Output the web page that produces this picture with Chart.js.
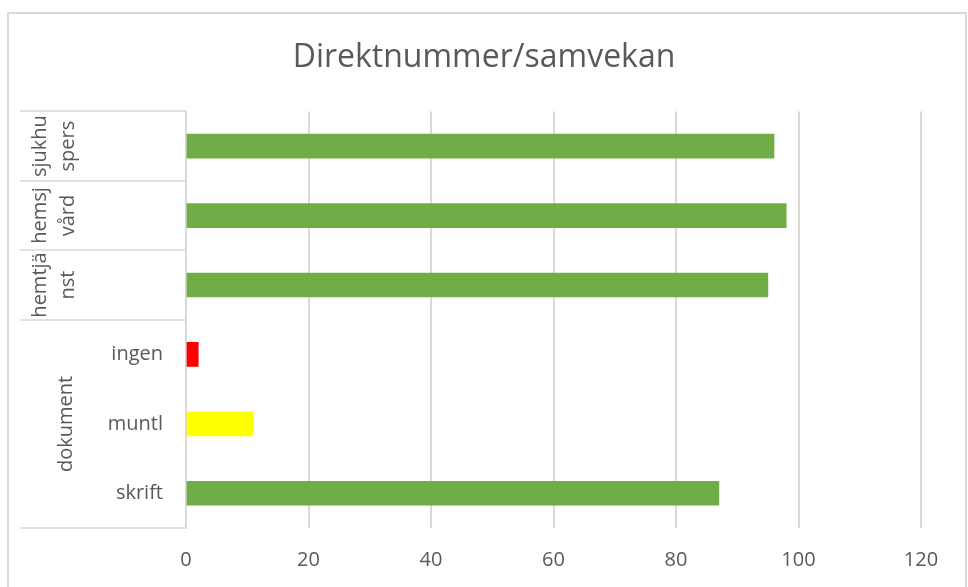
<!DOCTYPE html>
<html>
<head>
<meta charset="utf-8">
<script src="https://cdn.jsdelivr.net/npm/chart.js@4"></script>
<style>
  body { margin: 0; background: #fff; }
  #wrap { width: 968px; height: 587px; }
</style>
</head>
<body>
<div id="wrap"><canvas id="chart1" width="968" height="587"></canvas></div>
<script>
// Data
const categories = ['sjukhuspers', 'hemsjvård', 'hemtjänst', 'ingen', 'muntl', 'skrift'];
// wrapped the way Excel shows them in the narrow label column
const categoryLines = [['sjukhu', 'spers'], ['hemsj', 'vård'], ['hemtjä', 'nst'], ['ingen'], ['muntl'], ['skrift']];
const groups = ['', '', '', 'dokument', 'dokument', 'dokument'];
const values = [96, 98, 95, 2, 11, 87];
const barColors = ['#70AD47', '#70AD47', '#70AD47', '#FF0000', '#FFFF00', '#70AD47'];
const xTicks = [0, 20, 40, 60, 80, 100, 120];

const textColor = '#595959';
const lineColor = '#d9d9d9';
const labelFont = '20px "Open Sans"';

// frame round the whole chart
const framePlugin = {
    id: 'frame',
    beforeDraw(chart) {
        const ctx = chart.ctx;
        ctx.save();
        ctx.fillStyle = '#fff';
        ctx.fillRect(0, 0, chart.width, chart.height);
        ctx.strokeStyle = lineColor;
        ctx.lineWidth = 2;
        ctx.strokeRect(8, 13, 958, 600);
        ctx.restore();
    }
};

// two-level category axis drawn by hand, positions come from the y scale
const categoryAxisPlugin = {
    id: 'categoryAxis',
    afterDraw(chart) {
        const ctx = chart.ctx;
        const y = chart.scales.y;
        const left = chart.chartArea.left;
        const n = categories.length;
        const half = Math.abs(y.getPixelForValue(1) - y.getPixelForValue(0)) / 2;

        ctx.save();
        ctx.strokeStyle = lineColor;
        ctx.lineWidth = 1.5;
        for (let i = 0; i <= n; i++) {
            const split = i === 0 || i === n || groups[i] === '' || groups[i - 1] === '' || groups[i] !== groups[i - 1];
            if (!split) continue;
            const py = Math.round(i < n ? y.getPixelForValue(i) - half : y.getPixelForValue(n - 1) + half);
            ctx.beginPath();
            ctx.moveTo(20, py);
            ctx.lineTo(left + 1, py);
            ctx.stroke();
        }

        ctx.fillStyle = textColor;
        ctx.font = labelFont;
        ctx.textBaseline = 'middle';

        const drawn = {};
        categories.forEach((c, i) => {
            const py = y.getPixelForValue(i);
            if (groups[i] === '') {
                const lines = categoryLines[i];
                ctx.save();
                ctx.translate(54, py);
                ctx.rotate(-Math.PI / 2);
                ctx.textAlign = 'center';
                lines.forEach((t, k) => {
                    ctx.fillText(t, 0, (k - (lines.length - 1) / 2) * 28);
                });
                ctx.restore();
            } else {
                ctx.textAlign = 'right';
                ctx.fillText(categoryLines[i].join(' '), 163, py);
                if (!drawn[groups[i]]) {
                    drawn[groups[i]] = true;
                    const idx = groups.map((g, k) => g === groups[i] ? k : -1).filter(k => k >= 0);
                    const gy = (y.getPixelForValue(idx[0]) + y.getPixelForValue(idx[idx.length - 1])) / 2;
                    ctx.save();
                    ctx.translate(66, gy);
                    ctx.rotate(-Math.PI / 2);
                    ctx.textAlign = 'center';
                    ctx.fillText(groups[i], 0, 0);
                    ctx.restore();
                }
            }
        });
        ctx.restore();
    }
};

const ctx1 = document.getElementById('chart1').getContext('2d');
const chart1 = new Chart(ctx1, {
    type: 'bar',
    data: {
        labels: categories,
        datasets: [{
            label: 'Direktnummer/samvekan',
            data: values,
            backgroundColor: barColors,
            borderWidth: 0,
            barThickness: 24
        }]
    },
    options: {
        indexAxis: 'y',
        responsive: false,
        animation: false,
        devicePixelRatio: 1,
        // equal side padding keeps the title centred on the canvas
        layout: { padding: { top: 12, left: 47, right: 47, bottom: 0 } },
        plugins: {
            legend: { display: false },
            tooltip: { enabled: false },
            title: {
                display: true,
                text: 'Direktnummer/samvekan',
                color: textColor,
                font: { family: 'Open Sans', size: 32, weight: 'normal' },
                padding: { top: 27, bottom: 34 }
            }
        },
        scales: {
            x: {
                min: 0,
                max: 120,
                afterBuildTicks: scale => { scale.ticks = xTicks.map(v => ({ value: v })); },
                afterFit: scale => { scale.height = 59; },
                grid: { color: lineColor, lineWidth: 2, drawTicks: false },
                border: { display: false },
                ticks: {
                    color: textColor,
                    font: { family: 'Open Sans', size: 20 },
                    padding: 20
                }
            },
            y: {
                afterFit: scale => { scale.width = 139; },
                grid: { display: false },
                border: { display: false },
                ticks: { display: false }
            }
        }
    },
    plugins: [framePlugin, categoryAxisPlugin]
});
</script>
</body>
</html>
